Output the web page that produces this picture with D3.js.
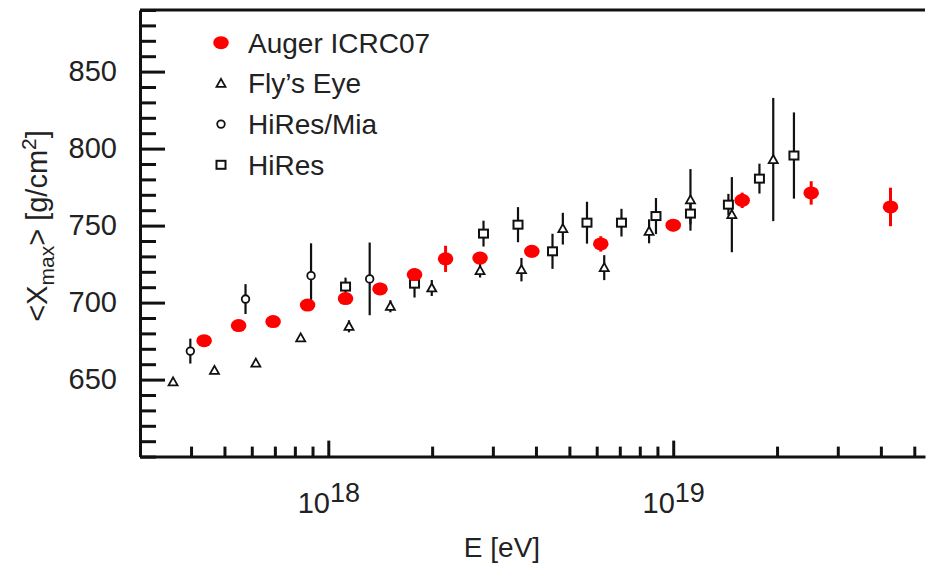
<!DOCTYPE html>
<html lang="en">
<head>
  <meta charset="UTF-8">
  <title>Xmax vs energy</title>
</head>

<style>
body { margin: 0; background: white; }
text { font-family: Arial, "Liberation Sans", sans-serif; fill: #222; }
</style>

<body>

  <svg width="937" height="566"></svg>

  <script src="https://cdn.jsdelivr.net/npm/d3@7"></script>

  <script>

    // lg(E/eV), <Xmax> [g/cm2], error
    var augerLgE = [17.64, 17.74, 17.84, 17.94, 18.05, 18.15, 18.25, 18.34, 18.44, 18.59, 18.79, 19.00, 19.20, 19.40, 19.63]
    var augerX   = [675.3, 685.1, 687.7, 698.4, 702.6, 708.9, 718.2, 728.4, 728.9, 733.3, 738.1, 750.3, 766.4, 771.2, 762.1]
    var augerErr = [2, 2, 2, 3, 3, 4, 4, 8.5, 4, 4, 5, 4, 5, 7.6, 12.5]

    var flyLgE = [17.55, 17.67, 17.79, 17.92, 18.06, 18.18, 18.30, 18.44, 18.56, 18.68, 18.80, 18.93, 19.05, 19.17, 19.29]
    var flyX   = [648.5, 656, 660.7, 677.1, 684.6, 697.6, 709.5, 720.8, 721.4, 748, 722.7, 746.3, 766.7, 757.1, 792.9]
    var flyErr = [1, 1, 1.5, 1.5, 3.9, 3.9, 5.2, 4.5, 7.6, 10.3, 8.1, 7.8, 20, 24.4, 40]

    var miaLgE = [17.60, 17.76, 17.95, 18.12]
    var miaX   = [668.5, 702.3, 717.5, 715.4]
    var miaErr = [8.1, 9.7, 21, 23.6]

    var hiresLgE = [18.05, 18.25, 18.45, 18.55, 18.65, 18.75, 18.85, 18.95, 19.05, 19.16, 19.25, 19.35]
    var hiresX   = [710.4, 712.3, 744.8, 750.6, 733.3, 751.9, 751.9, 756.2, 757.8, 763.6, 780.5, 795.5]
    var hiresErr = [5.8, 9, 8.4, 11.4, 11.4, 13.6, 9, 11.7, 7, 7, 9.7, 28]

    var legendNames = ["Auger ICRC07", "Fly\u2019s Eye", "HiRes/Mia", "HiRes"]

    var yMajor = [650, 700, 750, 800, 850]
    var xMajor = [1e18, 1e19]
    var xMajorExp = ["18", "19"]
    var xMinor = [4e17, 5e17, 6e17, 7e17, 8e17, 9e17,
                  2e18, 3e18, 4e18, 5e18, 6e18, 7e18, 8e18, 9e18,
                  2e19, 3e19, 4e19, 5e19]

    var plotL = 140, plotR = 925, plotT = 10, plotB = 456.6

    var x = d3.scaleLog().domain([2.845e17, 5.37e19]).range([plotL, plotR])
    var y = d3.scaleLinear().domain([600, 890]).range([plotB, plotT])

    var svg = d3.select('svg')

    function toRows(lgE, vals, errs) {
      return lgE.map(function(e, i) {
        return { e: Math.pow(10, e), v: vals[i], err: errs[i] }
      })
    }

    var series = [
      { name: legendNames[1], rows: toRows(flyLgE, flyX, flyErr), shape: 'tri' },
      { name: legendNames[2], rows: toRows(miaLgE, miaX, miaErr), shape: 'circ' },
      { name: legendNames[3], rows: toRows(hiresLgE, hiresX, hiresErr), shape: 'sq' },
      { name: legendNames[0], rows: toRows(augerLgE, augerX, augerErr), shape: 'dot' }
    ]

    // frame top line
    svg.append('line')
      .attr('x1', plotL).attr('x2', plotR)
      .attr('y1', plotT).attr('y2', plotT)
      .attr('stroke', '#111').attr('stroke-width', 3)

    // y axis: minor then major
    var yMinorVals = d3.range(600, 891, 10).filter(function(v) { return yMajor.indexOf(v) < 0 })
    svg.append('g')
      .attr('transform', 'translate(' + plotL + ',0)')
      .call(d3.axisLeft(y).tickValues(yMinorVals).tickSizeInner(-16).tickSizeOuter(0).tickFormat(''))
      .call(function(g) { g.select('.domain').remove() })
      .selectAll('line').attr('stroke', '#111').attr('stroke-width', 3)

    var yAxis = svg.append('g')
      .attr('transform', 'translate(' + plotL + ',0)')
      .call(d3.axisLeft(y).tickValues(yMajor).tickSizeInner(-25).tickSizeOuter(0).tickPadding(23))
    yAxis.select('.domain').attr('stroke', '#111').attr('stroke-width', 3)
    yAxis.selectAll('line').attr('stroke', '#111').attr('stroke-width', 3)
    yAxis.selectAll('text')
      .style('font-size', '29px')
      .style('font-family', 'Arial, "Liberation Sans", sans-serif')
      .attr('fill', '#222')

    // x axis
    svg.append('g')
      .attr('transform', 'translate(0,' + plotB + ')')
      .call(d3.axisBottom(x).tickValues(xMinor).tickSizeInner(-10).tickSizeOuter(0).tickFormat(''))
      .call(function(g) { g.select('.domain').remove() })
      .selectAll('line').attr('stroke', '#111').attr('stroke-width', 3)

    var xAxis = svg.append('g')
      .attr('transform', 'translate(0,' + plotB + ')')
      .call(d3.axisBottom(x).tickValues(xMajor).tickSizeInner(-16).tickSizeOuter(0).tickFormat(''))
    xAxis.select('.domain').attr('stroke', '#111').attr('stroke-width', 3)
    xAxis.selectAll('line').attr('stroke', '#111').attr('stroke-width', 3)

    xAxis.selectAll('.tick').each(function(d, i) {
      var t = d3.select(this).append('text')
        .attr('x', 0).attr('y', 56.5)
        .attr('text-anchor', 'middle')
        .attr('fill', '#222')
        .style('font-size', '29px')
      t.append('tspan').text('10')
      t.append('tspan').attr('dy', -11).style('font-size', '27px').text(xMajorExp[i])
    })

    // axis titles
    svg.append('text')
      .attr('x', 502).attr('y', 557)
      .attr('text-anchor', 'middle')
      .style('font-size', '28px')
      .text('E [eV]')

    var yl = svg.append('text')
      .attr('transform', 'translate(47,226) rotate(-90)')
      .attr('text-anchor', 'middle')
      .style('font-size', '29px')
    yl.append('tspan').text('<X')
    yl.append('tspan').attr('dy', 7).style('font-size', '21px').text('max')
    yl.append('tspan').attr('dy', -7).text('> [g/cm')
    yl.append('tspan').attr('dy', -11).style('font-size', '21px').text('2')
    yl.append('tspan').attr('dy', 11).text(']')

    function drawMarker(sel, shape, cx, cy) {
      if (shape === 'dot') {
        sel.append('ellipse').attr('cx', cx).attr('cy', cy).attr('rx', 7.8).attr('ry', 6.5)
          .attr('fill', '#f00')
      } else if (shape === 'tri') {
        sel.append('path')
          .attr('transform', 'translate(' + cx + ',' + cy + ')')
          .attr('d', 'M0,-4.5L4.5,3.5L-4.5,3.5Z')
          .attr('fill', 'white').attr('stroke', '#111').attr('stroke-width', 1.8)
      } else if (shape === 'circ') {
        sel.append('circle').attr('cx', cx).attr('cy', cy).attr('r', 3.8)
          .attr('fill', 'white').attr('stroke', '#111').attr('stroke-width', 1.8)
      } else {
        sel.append('rect').attr('x', cx - 4.5).attr('y', cy - 4).attr('width', 9).attr('height', 8)
          .attr('fill', 'white').attr('stroke', '#111').attr('stroke-width', 2)
      }
    }

    series.forEach(function(s) {
      var g = svg.append('g')
      var col = s.shape === 'dot' ? '#f00' : '#111'
      g.selectAll('line.err')
        .data(s.rows)
        .enter()
        .append('line')
        .attr('class', 'err')
        .attr('x1', function(d) { return x(d.e) })
        .attr('x2', function(d) { return x(d.e) })
        .attr('y1', function(d) { return y(d.v - d.err) })
        .attr('y2', function(d) { return y(d.v + d.err) })
        .attr('stroke', col)
        .attr('stroke-width', s.shape === 'dot' ? 3 : 2.2)
      s.rows.forEach(function(d) { drawMarker(g, s.shape, x(d.e), y(d.v)) })
    })

    // legend
    var legendShapes = ['dot', 'tri', 'circ', 'sq']
    var lg = svg.append('g')
    legendNames.forEach(function(n, i) {
      var cy = 42.7 + i * 40.7
      drawMarker(lg, legendShapes[i], 221, cy)
      lg.append('text')
        .attr('x', 248).attr('y', cy + 10)
        .style('font-size', '28px')
        .text(n)
    })

  </script>

</body>
</html>
